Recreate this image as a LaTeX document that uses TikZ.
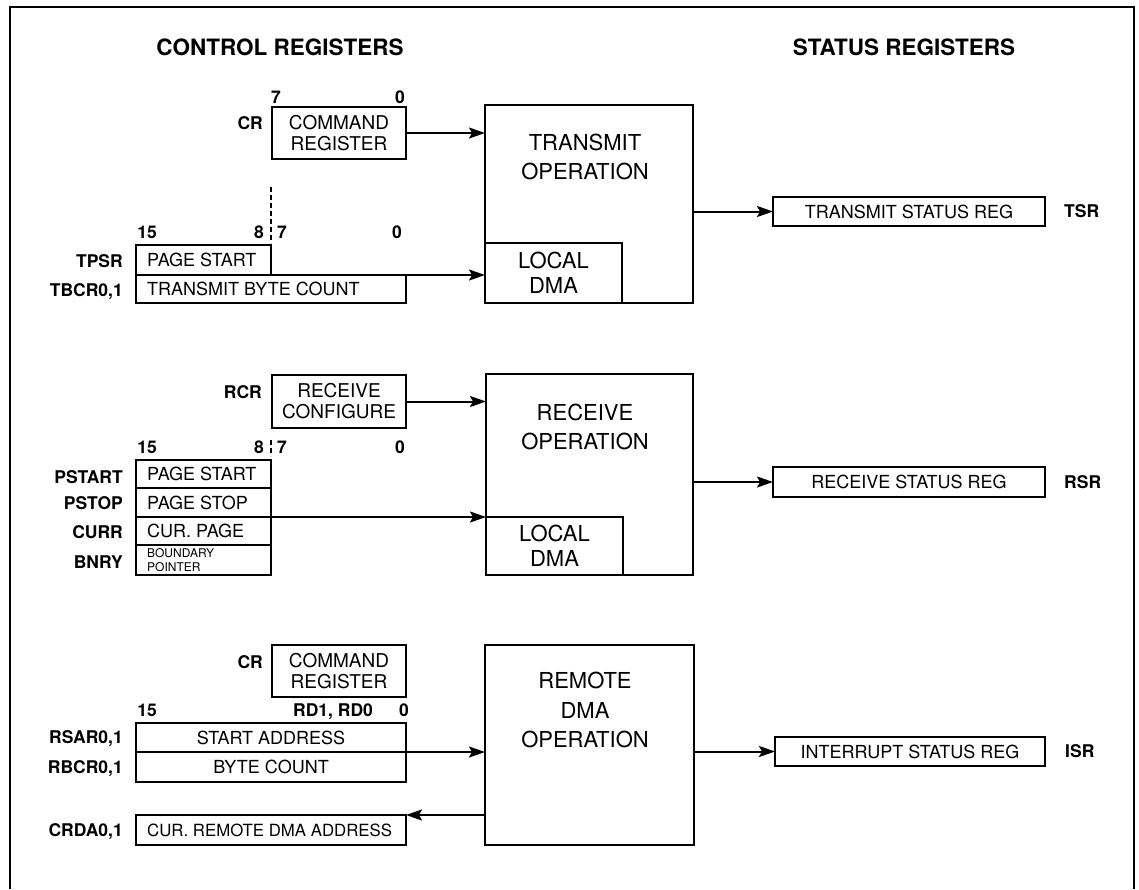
\documentclass[tikz,border=0pt]{standalone}
\usepackage{fontspec}
\setmainfont{TeX Gyre Heros}
\usetikzlibrary{arrows.meta}
\newcommand{\regbox}[7][] {
    \node[box,#1,minimum width={#5-#3},minimum height={#6-#4}] (#2) at ({(#3+#5)/2}, {(#4+#6)/2}) {#7};
}
\newcommand{\regboxl}[7][] {
    \node[box,minimum width={#5-#3},minimum height={#6-#4}] (#2) at ({(#3+#5)/2}, {(#4+#6)/2}) {};
    \node[regtext,#1,anchor=west] (#2t) at ([xshift=11pt]#2.west) {#7};
}
\tikzset{
    box/.style={draw,line width=2pt,inner sep=0pt,outer sep=0pt,align=center,
        font=\fontsize{18}{21}\selectfont},
    regtext/.style={inner sep=0pt,align=left,font=\fontsize{18}{21}\selectfont},
    twoline/.style={font=\fontsize{19}{21}\selectfont},
    lowbox/.style={font=\fontsize{22}{25}\selectfont},
    tinytext/.style={font=\fontsize{12}{13.5}\selectfont},
    crdafont/.style={font=\fontsize{16.8}{20}\selectfont},
    optext/.style={inner sep=0pt,align=center,font=\fontsize{22}{29.5}\selectfont},
    title/.style={inner sep=0pt,text height=16pt,text depth=0pt,font=\fontsize{22.5}{26}\selectfont\bfseries},
    sidelbl/.style={inner sep=0pt,anchor=east,text height=12.5pt,text depth=0pt,
        font=\fontsize{17.5}{20}\selectfont\bfseries},
    bitno/.style={inner sep=0pt,text height=12.5pt,text depth=0pt,
        font=\fontsize{17.5}{20}\selectfont\bfseries},
    conn/.style={line width=2pt,-{Stealth[length=16pt,width=11pt,inset=3pt]}},
    divider/.style={line width=1.8pt,dash pattern=on 5pt off 3pt},
    frame/.style={line width=2.2pt}
}
\begin{document}
\begin{tikzpicture}[x={(1pt,0pt)},y={(0pt,-1pt)}]
    \useasboundingbox (0,0) rectangle (1139,889);
    \draw[frame] (10,889) -- (10,7) -- (1134,7) -- (1134,889);
    \node[title] (ctltitle) at (280,47) {CONTROL REGISTERS};
    \node[title] (stattitle) at (904,47) {STATUS REGISTERS};
    % transmit
    \regbox[twoline]{cra}{272}{107}{406}{159}{COMMAND\\REGISTER}
    \regboxl{tpsr}{136}{245}{271}{275}{PAGE START}
    \regboxl{tbcr}{136}{275}{406}{303}{TRANSMIT BYTE COUNT}
    \regbox{txop}{485}{105}{693}{303}{}
    \regbox[lowbox]{txdma}{485}{243}{622}{303}{LOCAL\\DMA}
    \regbox{tsr}{773}{197}{1045}{226}{TRANSMIT STATUS REG}
    \node[optext] (txname) at (585,157) {TRANSMIT\\OPERATION};
    % receive
    \regbox[twoline]{rcr}{272}{375}{406}{428}{RECEIVE\\CONFIGURE}
    \regboxl{pstart}{136}{460}{271}{488}{PAGE START}
    \regboxl{pstop}{136}{488}{271}{517}{PAGE STOP}
    \regboxl{curr}{136}{517}{271}{545}{CUR. PAGE}
    \regboxl[tinytext]{bnry}{136}{545}{271}{575}{BOUNDARY\\POINTER}
    \regbox{rxop}{486}{374}{693}{575}{}
    \regbox[lowbox]{rxdma}{486}{517}{623}{575}{LOCAL\\DMA}
    \regbox{rsr}{773}{467}{1045}{497}{RECEIVE STATUS REG}
    \node[optext] (rxname) at (585,427) {RECEIVE\\OPERATION};
    % remote dma
    \regbox[twoline]{crb}{272}{645}{406}{697}{COMMAND\\REGISTER}
    \regbox{rsar}{136}{723}{406}{752}{START ADDRESS}
    \regbox{rbcr}{136}{752}{406}{782}{BYTE COUNT}
    \regboxl[crdafont]{crda}{136}{815}{406}{845}{CUR. REMOTE DMA ADDRESS}
    \regbox{rdop}{485}{645}{694}{845}{}
    \regbox{isr}{775}{737}{1045}{766}{INTERRUPT STATUS REG}
    \node[optext] (rdname) at (585,710) {REMOTE\\DMA\\OPERATION};
    % labels
    \foreach \txt/\y in {TPSR/261,{TBCR0,1}/290,PSTART/477,PSTOP/503,CURR/532,BNRY/562,
                         {RSAR0,1}/737,{RBCR0,1}/767,{CRDA0,1}/830}
        \node[sidelbl] (side\y) at (123,\y) {\txt};
    \node[sidelbl] (crlbla) at (263,123) {CR};
    \node[sidelbl] (rcrlbl) at (262,392) {RCR};
    \node[sidelbl] (crlblb) at (263,662) {CR};
    \node[sidelbl,anchor=west] (tsrlbl) at ([xshift=19pt]tsr.east) {TSR};
    \node[sidelbl,anchor=west] (rsrlbl) at ([xshift=19pt]rsr.east) {RSR};
    \node[sidelbl,anchor=west] (isrlbl) at ([xshift=20pt]isr.east) {ISR};
    \foreach \txt/\x/\y in {7/276/97,0/400/97,
                            15/147/232,8/259/232,7/282/232,0/397/232,
                            15/147/447,8/259/447,7/282/447,0/400/447,
                            15/147/710,{RD1, RD0}/333/710,0/404/710}
        \node[bitno] (bit\x-\y) at (\x,\y) {\txt};
    \draw[divider] (271,187) -- (271,243);
    \draw[divider] (271,440) -- (271,456);
    % connectors
    \draw[conn] (cra.east) -- (cra.east -| txop.west);
    \draw[conn] (tbcr.north east) -- (tbcr.north east -| txdma.west);
    \draw[conn] (txop.east |- tsr.west) -- (tsr.west);
    \draw[conn] (rcr.east) -- (rcr.east -| rxop.west);
    \draw[conn] (curr.north east) -- (curr.north east -| rxdma.west);
    \draw[conn] (rxop.east |- rsr.west) -- (rsr.west);
    \draw[conn] (rsar.south east) -- (rsar.south east -| rdop.west);
    \draw[conn] (rdop.east |- isr.west) -- (isr.west);
    \draw[conn] (rdop.west |- crda.north east) -- (crda.north east);
\end{tikzpicture}
\end{document}
